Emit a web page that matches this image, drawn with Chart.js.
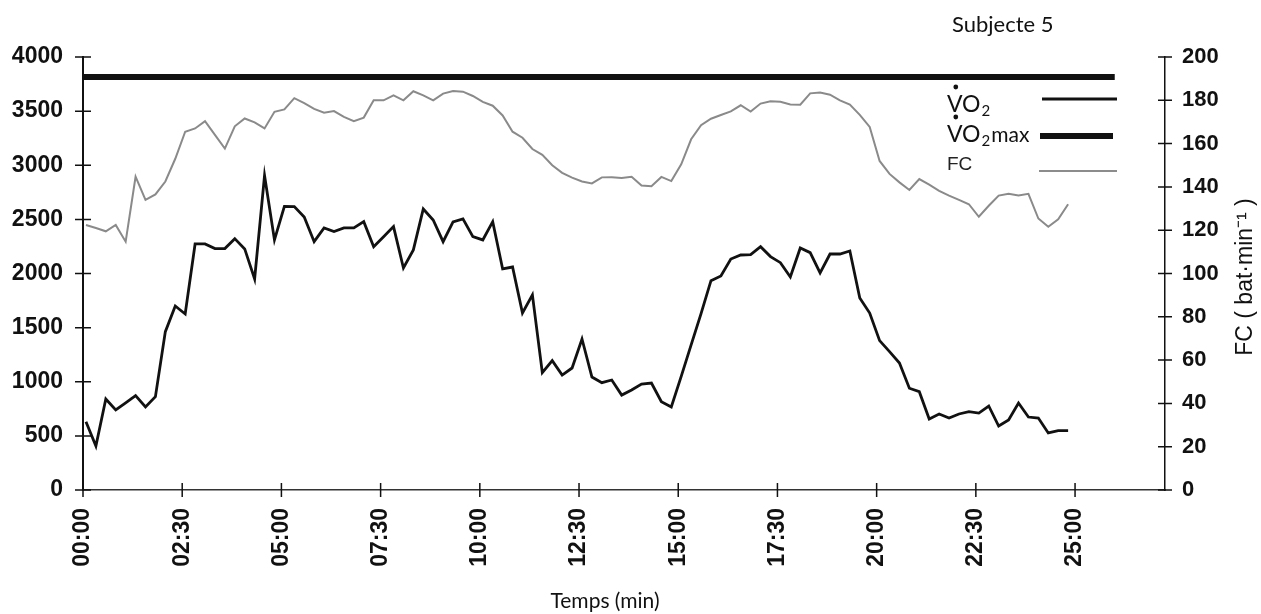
<!DOCTYPE html>
<html>
<head>
<meta charset="utf-8">
<script src="https://cdn.jsdelivr.net/npm/chart.js@4.4.0/dist/chart.umd.min.js"></script>
<style>
  html, body { margin: 0; padding: 0; background: #fff; }
  canvas { display: block; }
</style>
</head>
<body>
<canvas id="chart" width="1261" height="614"></canvas>
<script>
// VO2 (ml/min), one sample every 15 s
const vo2 = [
  631, 406, 841, 739, 805, 872, 767, 862, 1463, 1700,
  1626, 2273, 2273, 2230, 2230, 2322, 2227, 1950, 2904, 2310,
  2620, 2618, 2522, 2294, 2421, 2387, 2421, 2421, 2479, 2248,
  2340, 2433, 2051, 2218, 2596, 2494, 2294, 2476, 2504, 2340,
  2310, 2479, 2042, 2060, 1635, 1802, 1084, 1195, 1062, 1127,
  1395, 1044, 991, 1016, 877, 924, 979, 988, 816, 767,
  1050, 1340, 1630, 1934, 1977, 2134, 2171, 2174, 2248, 2156,
  2100, 1968, 2236, 2193, 2005, 2180, 2180, 2208, 1774, 1635,
  1380, 1278, 1173, 940, 908, 656, 702, 665, 702, 723,
  711, 776, 591, 647, 804, 674, 665, 527, 548, 548
];

// FC (bat/min), same sampling
const fc = [
  122.4, 121, 119.5, 122.4, 114.7, 144.7, 134, 136.5, 142.5, 153,
  165.5, 167, 170.4, 164, 157.7, 168, 171.6, 169.8, 167, 174.7,
  175.8, 181, 178.7, 176, 174.3, 175, 172.3, 170.4, 172, 180,
  180, 182.3, 180, 184.2, 182.3, 180, 183.1, 184.3, 184, 182,
  179.3, 177.5, 173, 165.5, 162.7, 157.5, 154.8, 150, 146.5, 144.3,
  142.5, 141.6, 144.4, 144.5, 144.1, 144.7, 140.6, 140.3, 144.6, 142.7,
  150.4, 162, 168.5, 171.5, 173.2, 174.9, 177.7, 174.8, 178.5, 179.6,
  179.3, 178.1, 178, 183.2, 183.6, 182.6, 180, 178, 173.3, 167.7,
  152, 146, 142.1, 138.6, 143.6, 141, 138.2, 136, 134, 132,
  126.2, 131.3, 136, 136.8, 136, 136.8, 125.4, 121.6, 125, 132
];

const vo2max = 3815;
const vo2maxSpan = [0, 1560];   // seconds
const firstSample = 4.5;        // seconds
const sampleStep = 15;          // seconds
const xMax = 1636;

const xTickSeconds = [0, 150, 300, 450, 600, 750, 900, 1050, 1200, 1350, 1500];
const xTickLabels = ['00:00', '02:30', '05:00', '07:30', '10:00', '12:30', '15:00', '17:30', '20:00', '22:30', '25:00'];

const sampleTimes = vo2.map((_, i) => firstSample + i * sampleStep);

Chart.defaults.font.family = '"Liberation Sans", Arial, sans-serif';
Chart.defaults.color = '#111';

const tickFont = size => ({ family: '"Liberation Sans", Arial, sans-serif', size: size, weight: 'bold' });

const decor = {
  id: 'decor',
  afterDraw(chart) {
    const {ctx, chartArea, scales} = chart;
    ctx.save();

    // tick marks crossing the axes
    ctx.strokeStyle = '#111';
    ctx.lineWidth = 1.5;
    ctx.beginPath();
    scales.x.ticks.forEach(t => {
      const px = scales.x.getPixelForValue(t.value);
      ctx.moveTo(px, chartArea.bottom - 7);
      ctx.lineTo(px, chartArea.bottom + 7);
    });
    scales.y.ticks.forEach(t => {
      const py = scales.y.getPixelForValue(t.value);
      ctx.moveTo(chartArea.left - 8, py);
      ctx.lineTo(chartArea.left + 8, py);
    });
    scales.y1.ticks.forEach(t => {
      const py = scales.y1.getPixelForValue(t.value);
      ctx.moveTo(chartArea.right - 7, py);
      ctx.lineTo(chartArea.right + 7, py);
    });
    ctx.stroke();

    // title
    ctx.fillStyle = '#111';
    ctx.font = '22px Lato';
    ctx.textAlign = 'left';
    ctx.textBaseline = 'alphabetic';
    ctx.fillText('Subjecte 5', 952, 32);

    // x title
    ctx.font = '21px Lato';
    ctx.textAlign = 'center';
    ctx.fillText('Temps (min)', 605, 608);

    // right axis title
    ctx.save();
    ctx.translate(1252, 277);
    ctx.rotate(-Math.PI / 2);
    ctx.font = '23px "Liberation Sans"';
    ctx.textAlign = 'center';
    ctx.fillText('FC ( bat\u00b7min\u207b\u00b9 )', 0, 0);
    ctx.restore();

    // legend
    const vo = (x, base, suffix) => {
      ctx.textAlign = 'left';
      ctx.font = '23px Lato';
      ctx.fillText('VO', x, base);
      const wV = ctx.measureText('V').width;
      const w = ctx.measureText('VO').width;
      ctx.font = '15px Lato';
      ctx.fillText('2', x + w + 1, base + 4);
      const w2 = ctx.measureText('2').width;
      if (suffix) {
        ctx.font = '21px Lato';
        ctx.fillText(suffix, x + w + w2 + 2, base);
      }
      ctx.beginPath();
      ctx.arc(x + wV / 2 + 1, base - 25, 2.4, 0, Math.PI * 2);
      ctx.fill();
    };
    vo(947, 112, '');
    vo(947, 142, 'max');
    ctx.font = '19px "Liberation Sans"';
    ctx.fillStyle = '#222';
    ctx.fillText('FC', 947, 170);

    ctx.lineCap = 'butt';
    ctx.strokeStyle = '#111';
    ctx.lineWidth = 3;
    ctx.beginPath(); ctx.moveTo(1042, 99); ctx.lineTo(1117, 99); ctx.stroke();
    ctx.lineWidth = 6;
    ctx.beginPath(); ctx.moveTo(1040, 136); ctx.lineTo(1113, 136); ctx.stroke();
    ctx.strokeStyle = '#8c8c8c';
    ctx.lineWidth = 2;
    ctx.beginPath(); ctx.moveTo(1039, 171); ctx.lineTo(1117, 171); ctx.stroke();

    ctx.restore();
  }
};

new Chart(document.getElementById('chart'), {
  type: 'line',
  data: {
    datasets: [
      {
        label: 'VO2max',
        data: vo2maxSpan.map(t => ({x: t, y: vo2max})),
        borderColor: '#111',
        borderWidth: 6,
        yAxisID: 'y'
      },
      {
        label: 'FC',
        data: sampleTimes.map((t, i) => ({x: t, y: fc[i]})),
        borderColor: '#8a8a8a',
        borderWidth: 2,
        yAxisID: 'y1'
      },
      {
        label: 'VO2',
        data: sampleTimes.map((t, i) => ({x: t, y: vo2[i]})),
        borderColor: '#111',
        borderWidth: 2.8,
        yAxisID: 'y'
      }
    ]
  },
  options: {
    responsive: false,
    animation: false,
    layout: { padding: { top: 57, left: 0, right: 0, bottom: 0 } },
    elements: { point: { radius: 0 }, line: { tension: 0, borderJoinStyle: 'miter' } },
    plugins: {
      legend: { display: false },
      tooltip: { enabled: false }
    },
    scales: {
      x: {
        type: 'linear',
        min: 0,
        max: xMax,
        grid: { display: false, drawTicks: false },
        border: { display: true, color: '#333', width: 1.5 },
        afterBuildTicks: scale => { scale.ticks = xTickSeconds.map(v => ({value: v})); },
        afterFit: scale => { scale.height = 124; },
        ticks: {
          autoSkip: false,
          minRotation: 90,
          maxRotation: 90,
          padding: 18,
          font: tickFont(23),
          callback: v => xTickLabels[xTickSeconds.indexOf(v)]
        }
      },
      y: {
        position: 'left',
        min: 0,
        max: 4000,
        grid: { display: false, drawTicks: false },
        border: { display: true, color: '#111', width: 2 },
        afterFit: scale => { scale.width = 83; },
        ticks: { stepSize: 500, padding: 20, font: tickFont(23), callback: v => String(v) }
      },
      y1: {
        position: 'right',
        min: 0,
        max: 200,
        grid: { display: false, drawTicks: false },
        border: { display: true, color: '#111', width: 1.5 },
        afterFit: scale => { scale.width = 96; },
        ticks: { stepSize: 20, padding: 17, font: tickFont(22), callback: v => String(v) }
      }
    }
  },
  plugins: [decor]
});
</script>
</body>
</html>
